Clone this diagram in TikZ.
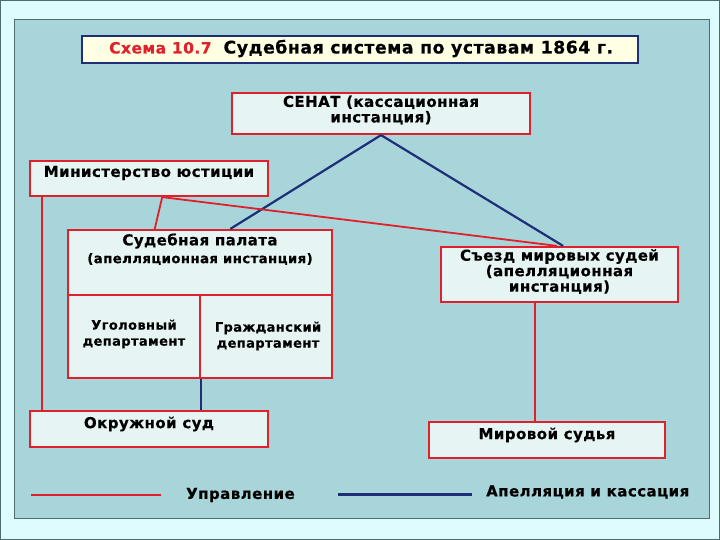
\documentclass[tikz,border=0pt]{standalone}
\usepackage{fontspec}
\setmainfont{DejaVu Sans}[LetterSpace=3, BoldFeatures={FakeBold=0.4}]
\usetikzlibrary{calc}
\definecolor{outerbg}{HTML}{DEFCFD}
\definecolor{panel}{HTML}{A7D5D9}
\definecolor{boxfill}{HTML}{E6F4F4}
\definecolor{redc}{HTML}{E0202A}
\definecolor{navy}{HTML}{1E2F78}
\definecolor{titlefill}{HTML}{FFFFE3}
\definecolor{frame}{HTML}{4E6B6E}
\tikzset{
  box/.style={draw=redc, line width=2.2pt, fill=boxfill, rectangle, inner sep=0pt},
  ctrl/.style={draw=redc, line width=1.8pt},
  appeal/.style={draw=navy, line width=2.2pt},
  lbl/.style={font=\bfseries\fontsize{15}{15.5}\selectfont, align=center, inner sep=0pt},
  small/.style={font=\bfseries\fontsize{13.3}{16}\selectfont, align=center, inner sep=0pt},
  dept/.style={font=\bfseries\fontsize{13}{16}\selectfont, align=center, inner sep=0pt}
}
\begin{document}
\begin{tikzpicture}[x=1pt,y=-1pt]
\useasboundingbox (0,0) rectangle (720,540);
\fill[outerbg] (0,0) rectangle (720,540);
\draw[frame, line width=1pt] (0.5,0.5) rectangle (719.5,539.5);
\draw[frame, fill=panel, line width=1pt] (14,20) rectangle (709,518);
% title
\node[draw=navy, line width=1.8pt, fill=titlefill, minimum width=556pt, minimum height=27pt, inner sep=0pt] (title) at (360,49.5) {};
\node[inner sep=0pt, anchor=west] (titletext) at (109,48.5) {{\bfseries\fontsize{15.5}{16}\selectfont\color{redc}Схема 10.7}\hspace{12pt}{\bfseries\fontsize{17.3}{19}\selectfont Судебная система по уставам 1864 г.}};
% boxes
\node[box, minimum width=298pt, minimum height=41pt] (senat) at (381,113.5) {};
\node[lbl] (senatt) at (381,110) {СЕНАТ (кассационная\\инстанция)};
\node[box, minimum width=238pt, minimum height=35pt] (min) at (149,178.5) {};
\node[lbl] (mint) at (149,173) {Министерство юстиции};
\node[box, minimum width=264pt, minimum height=65pt] (pal) at (200,262.5) {};
\node[lbl] (palt1) at (200,241) {Судебная палата};
\node[small] (palt2) at (200,259) {(апелляционная инстанция)};
\node[box, minimum width=132pt, minimum height=83pt] (ugol) at (134,336.5) {};
\node[dept] (ugolt) at (134,334) {Уголовный\\департамент};
\node[box, minimum width=132pt, minimum height=83pt] (grazh) at (266,336.5) {};
\node[dept] (grazht) at (268,336) {Гражданский\\департамент};
\node[box, minimum width=237pt, minimum height=55pt] (sjezd) at (559.5,274.5) {};
\node[lbl] (sjezdt) at (559.5,271.5) {Съезд мировых судей\\(апелляционная\\инстанция)};
\node[box, minimum width=238pt, minimum height=36pt] (okr) at (149,429) {};
\node[lbl] (okrt) at (149,424) {Окружной суд};
\node[box, minimum width=236pt, minimum height=36pt] (mir) at (547,440) {};
\node[lbl] (mirt) at (547,435) {Мировой судья};
\draw[redc, line width=2.2pt] (68,295) -- (332,295);
% connectors
\coordinate (minA) at ($(min.south west)!0.055!(min.south east)$);
\coordinate (minB) at ($(min.south west)!0.555!(min.south east)$);
\coordinate (palA) at ($(pal.north west)!0.33!(pal.north east)$);
\coordinate (palB) at ($(pal.north west)!0.614!(pal.north east)$);
\coordinate (sjA) at ($(sjezd.north west)!0.49!(sjezd.north east)$);
\coordinate (sjB) at ($(sjezd.north west)!0.515!(sjezd.north east)$);
\coordinate (sjC) at ($(sjezd.south west)!0.397!(sjezd.south east)$);
\draw[appeal] (senat.south) -- (palB);
\draw[appeal] (senat.south) -- (sjB);
\draw[ctrl] (minB) -- (palA);
\draw[ctrl] (minB) -- (sjA);
\draw[ctrl] (minA) -- (minA |- okr.north);
\draw[appeal] (ugol.south east) -- (ugol.south east |- okr.north);
\draw[ctrl] (sjC) -- (sjC |- mir.north);
% legend
\coordinate (lr1) at (31,495);
\coordinate (lr2) at (161,495);
\coordinate (lb1) at (338,494.5);
\coordinate (lb2) at (472,494.5);
\draw[redc, line width=2.6pt] (lr1) -- (lr2);
\draw[navy, line width=2.6pt] (lb1) -- (lb2);
\node[lbl, anchor=west] (leg1) at (186,495) {Управление};
\node[lbl, anchor=west] (leg2) at (486,492) {Апелляция и кассация};
\end{tikzpicture}
\end{document}
